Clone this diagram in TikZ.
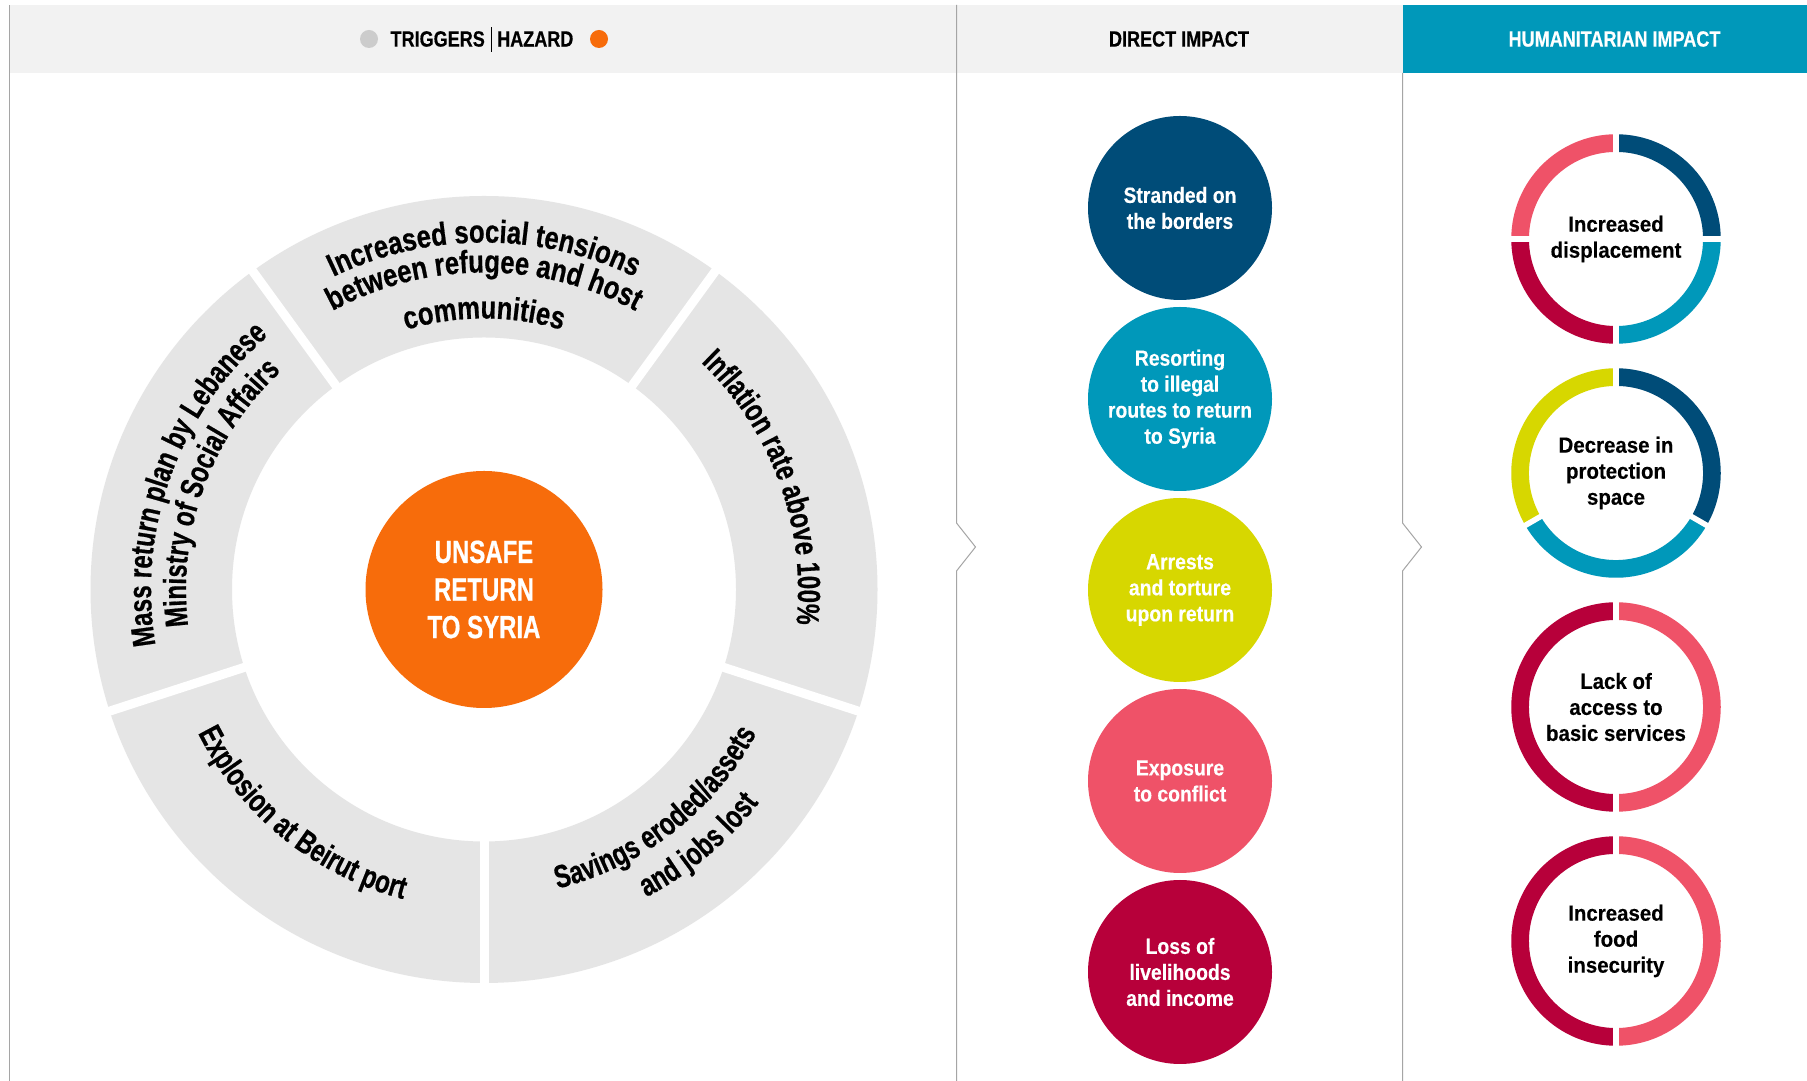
\documentclass[tikz,border=0pt]{standalone}
\usepackage{fontspec}
\setmainfont{Liberation Sans}
\newfontfamily\knock[FakeStretch=0.75, FakeBold=0.6]{Liberation Sans}
\newfontfamily\knockhead[FakeStretch=0.82, FakeBold=0.5]{Liberation Sans}
\newfontfamily\knockwide[FakeStretch=0.8, FakeBold=0.6]{Liberation Sans}
\newfontfamily\robo[FakeStretch=0.88, FakeBold=0.3]{Liberation Sans}
\newfontfamily\robowide[FakeStretch=0.93, FakeBold=0.3]{Liberation Sans}
\usepackage{tikz}
\usetikzlibrary{decorations.text}

\definecolor{hdrgray}{RGB}{242,242,242}
\definecolor{ringgray}{RGB}{229,229,229}
\definecolor{dotgray}{RGB}{204,204,204}
\definecolor{linegray}{RGB}{165,165,165}
\definecolor{hazorange}{RGB}{247,108,11}
\definecolor{impblue}{RGB}{0,76,120}
\definecolor{impteal}{RGB}{0,152,186}
\definecolor{implime}{RGB}{215,215,0}
\definecolor{imppink}{RGB}{239,82,104}
\definecolor{impred}{RGB}{183,0,58}

\newcommand{\ringtext}{\knock\bfseries\fontsize{32}{36}\selectfont}
\newcommand{\ringwide}{\knockwide\bfseries\fontsize{32}{36}\selectfont}

\begin{document}
\begin{tikzpicture}[x=1pt,y=1pt,
  divider/.style={draw=linegray, line width=1},
  hdr/.style={font=\knockhead\bfseries\fontsize{22}{24}\selectfont, inner sep=0},
  dot/.style={circle, minimum size=18, inner sep=0},
  hub/.style={circle, fill=hazorange, minimum size=237, inner sep=0, align=center,
    text=white, font=\knock\bfseries\fontsize{32}{37.6}\selectfont},
  impact/.style={circle, minimum size=184, inner sep=0, align=center, text=white,
    font=\robo\bfseries\fontsize{22}{26}\selectfont},
  humring/.style={circle, minimum size=174, inner sep=0, align=center,
    font=\robowide\bfseries\fontsize{22}{26}\selectfont},
  seg/.style={line width=17.7},
  gap/.style={draw=white, line width=9},
  smallgap/.style={draw=white, line width=5.5}]

\useasboundingbox (0,0) rectangle (1807,1081);
\fill[white] (0,0) rectangle (1807,1081);

% header band
\fill[hdrgray] (9,1008) rectangle (1402.5,1076);
\fill[impteal] (1402.5,1008) rectangle (1807,1076);
\draw[divider] (9,0) -- (9,1076);
\draw[divider] (956.5,0) -- (956.5,510) -- (975.5,534) -- (956.5,558) -- (956.5,1076);
\draw[divider] (1402.5,0) -- (1402.5,510) -- (1421.5,534) -- (1402.5,558) -- (1402.5,1008);

\node[hdr, anchor=east] (trig) at (485,1042) {TRIGGERS};
\node[hdr, anchor=west] (haz) at (497,1042) {HAZARD};
\draw[line width=0.8] (491,1029) -- (491,1054);
\node[dot, fill=dotgray] (trigdot) at (369,1042) {};
\node[dot, fill=hazorange] (hazdot) at (599,1042) {};
\node[hdr] (direct) at (1179,1042) {DIRECT IMPACT};
\node[hdr, text=white] (humhead) at (1614.5,1042) {HUMANITARIAN IMPACT};

% triggers wheel
\node[hub] (hub) at (484,491.5) {UNSAFE\\RETURN\\TO SYRIA};
\fill[ringgray, even odd rule] (hub.center) circle[radius=393.5] (hub.center) circle[radius=252];
\foreach \a in {54,126,198,270,342}
  \draw[gap] ([shift={(\a:240)}]hub.center) -- ([shift={(\a:400)}]hub.center);

\path[decorate, decoration={text along path, text align=center,
  text={|\ringwide|Increased social tensions}}]
  ([shift={(130:347)}]hub.center) arc[start angle=130, end angle=50, radius=347];
\path[decorate, decoration={text along path, text align=center,
  text={|\ringwide|between refugee and host}}]
  ([shift={(130:317)}]hub.center) arc[start angle=130, end angle=50, radius=317];
\path[decorate, decoration={text along path, text align=center,
  text={|\ringwide|communities}}]
  ([shift={(130:271)}]hub.center) arc[start angle=130, end angle=50, radius=271];
\path[decorate, decoration={text along path, text align=center,
  text={|\ringtext|Inflation rate above 100{\%}}}]
  ([shift={(60:314)}]hub.center) arc[start angle=60, end angle=-20, radius=314];
\path[decorate, decoration={text along path, text align=center,
  text={|\ringtext|Savings eroded{/}assets}}]
  ([shift={(-92:308)}]hub.center) arc[start angle=-92, end angle=-12, radius=308];
\path[decorate, decoration={text along path, text align=center,
  text={|\ringtext|and jobs lost}}]
  ([shift={(-90:348)}]hub.center) arc[start angle=-90, end angle=-10, radius=348];
\path[decorate, decoration={text along path, text align=center,
  text={|\ringtext|Explosion at Beirut port}}]
  ([shift={(191:320)}]hub.center) arc[start angle=191, end angle=271, radius=320];
\path[decorate, decoration={text along path, text align=center,
  text={|\ringtext|Mass return plan by Lebanese}}]
  ([shift={(200:333)}]hub.center) arc[start angle=200, end angle=120, radius=333];
\path[decorate, decoration={text along path, text align=center,
  text={|\ringtext|Ministry of Social Affairs}}]
  ([shift={(200:298)}]hub.center) arc[start angle=200, end angle=120, radius=298];

% direct impact
\node[impact, fill=impblue] (strand) at (1180,873) {Stranded on\\the borders};
\node[impact, fill=impteal] (illegal) at (1180,682) {Resorting\\to illegal\\routes to return\\to Syria};
\node[impact, fill=implime] (arrest) at (1180,491) {Arrests\\and torture\\upon return};
\node[impact, fill=imppink] (conflict) at (1180,300) {Exposure\\to conflict};
\node[impact, fill=impred] (liveli) at (1180,109) {Loss of\\livelihoods\\and income};

% humanitarian impact
\node[humring] (displ) at (1616,842) {Increased\\displacement};
\draw[seg, impblue] ([shift={(90:95.9)}]displ.center) arc[start angle=90, end angle=0, radius=95.9];
\draw[seg, impteal] ([shift={(0:95.9)}]displ.center) arc[start angle=0, end angle=-90, radius=95.9];
\draw[seg, impred] ([shift={(270:95.9)}]displ.center) arc[start angle=270, end angle=180, radius=95.9];
\draw[seg, imppink] ([shift={(180:95.9)}]displ.center) arc[start angle=180, end angle=90, radius=95.9];
\foreach \a in {0,90,180,270}
  \draw[smallgap] ([shift={(\a:80)}]displ.center) -- ([shift={(\a:112)}]displ.center);

\node[humring] (protect) at (1616,608) {Decrease in\\protection\\space};
\draw[seg, impblue] ([shift={(90:95.9)}]protect.center) arc[start angle=90, end angle=-30, radius=95.9];
\draw[seg, impteal] ([shift={(-30:95.9)}]protect.center) arc[start angle=-30, end angle=-150, radius=95.9];
\draw[seg, implime] ([shift={(210:95.9)}]protect.center) arc[start angle=210, end angle=90, radius=95.9];
\foreach \a in {90,-30,210}
  \draw[smallgap] ([shift={(\a:80)}]protect.center) -- ([shift={(\a:112)}]protect.center);

\node[humring] (services) at (1616,374) {Lack of\\access to\\basic services};
\draw[seg, impred] ([shift={(90:95.9)}]services.center) arc[start angle=90, end angle=270, radius=95.9];
\draw[seg, imppink] ([shift={(-90:95.9)}]services.center) arc[start angle=-90, end angle=90, radius=95.9];
\foreach \a in {90,270}
  \draw[smallgap] ([shift={(\a:80)}]services.center) -- ([shift={(\a:112)}]services.center);

\node[humring] (food) at (1616,140) {Increased\\food\\insecurity};
\draw[seg, impred] ([shift={(90:95.9)}]food.center) arc[start angle=90, end angle=270, radius=95.9];
\draw[seg, imppink] ([shift={(-90:95.9)}]food.center) arc[start angle=-90, end angle=90, radius=95.9];
\foreach \a in {90,270}
  \draw[smallgap] ([shift={(\a:80)}]food.center) -- ([shift={(\a:112)}]food.center);
\end{tikzpicture}
\end{document}
